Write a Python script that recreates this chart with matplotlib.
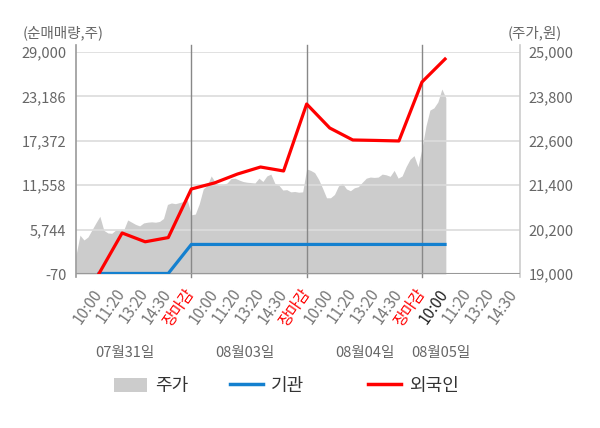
import matplotlib
matplotlib.use("Agg")
import matplotlib.pyplot as plt
import matplotlib.transforms as mtransforms
from matplotlib.patches import Patch
from matplotlib.lines import Line2D
import numpy as np

plt.rcParams['font.family'] = ['Noto Sans CJK KR', 'DejaVu Sans']

dates = ["07월31일", "08월03일", "08월04일", "08월05일"]
slot_labels = ["10:00", "11:20", "13:20", "14:30", "장마감"]

# 주가(원) - 하루를 고르게 나눈 값
price_d1 = [19510, 20050, 19920, 20000, 20190, 20380, 20560, 20180, 20110, 20100,
            20190, 20190, 20190, 20460, 20400, 20340, 20300, 20380, 20400, 20410,
            20400, 20420, 20500, 20880, 20920, 20900, 20930, 20960, 21000]
price_d2 = [20600, 20620, 20900, 21300, 21400, 21650, 21480, 21400, 21420, 21460,
            21580, 21590, 21540, 21500, 21480, 21470, 21460, 21590, 21500, 21650,
            21700, 21450, 21400, 21270, 21280, 21220, 21230, 21210, 21220]
price_d3 = [21840, 21800, 21740, 21560, 21320, 21060, 21060, 21150, 21380, 21450,
            21300, 21250, 21330, 21360, 21480, 21590, 21620, 21610, 21620, 21700,
            21680, 21640, 21800, 21590, 21650, 21900, 22100, 22200, 21900]
price_d4 = [22400, 23000, 23430, 23490, 23650, 24000, 23760]

# 순매매량(주) - 07/31 10:00 부터 08/05 10:00 까지
inst = [0, 0, 0, 0, 3800, 3800, 3800, 3800, 3800, 3800, 3800, 3800, 3800, 3800, 3800, 3800]
foreign = [0, 5300, 4150, 4700, 11060, 11850, 13020, 13940, 13420, 22190,
           19050, 17480, 17420, 17350, 25070, 28080]

vol_ticks = [-70, 5744, 11558, 17372, 23186, 29000]
price_ticks = [19000, 20200, 21400, 22600, 23800, 25000]

SLOTS = 5
n_pts = len(price_d1)
px, py = [], []
for d, p in enumerate([price_d1, price_d2, price_d3, price_d4]):
    px.extend(d * SLOTS + np.arange(len(p)) * SLOTS / n_pts)
    py.extend(p)

fig = plt.figure(figsize=(6, 4.28), dpi=100)
ax = fig.add_axes([76 / 600, 1 - 274 / 428, 444 / 600, 222 / 428])
axp = ax.twinx()
ax.set_zorder(2)
axp.set_zorder(1)
ax.patch.set_visible(False)
axp.set_facecolor('#f5f5f5')

xmax = 19.25
axp.fill_between(px, py, price_ticks[0], color='#cccccc', lw=0)
axp.set_ylim(price_ticks[0], price_ticks[-1])
axp.set_yticks(price_ticks, labels=[f"{v:,}" for v in price_ticks])
axp.tick_params(axis='y', length=0, pad=6, labelsize=10.5, labelcolor='#666666')

slot_x = np.arange(1, len(foreign) + 1)
ax.plot(slot_x, inst, color='#1480cf', lw=2.3, zorder=4)
ax.plot(slot_x, foreign, color='#ff0000', lw=2.3, zorder=5)

ax.set_xlim(0, xmax)
ax.set_ylim(vol_ticks[0], vol_ticks[-1])
ax.set_yticks(vol_ticks, labels=[f"{v:,}" for v in vol_ticks])
ax.tick_params(axis='y', length=0, pad=7, labelsize=10.5, labelcolor='#666666')
ax.grid(axis='y', color='#dcdcdc', lw=1.2)
ax.set_axisbelow(False)

for a in (ax, axp):
    for s in a.spines.values():
        s.set_visible(False)

# day dividers and frame
for d in range(1, len(dates)):
    ax.axvline(d * SLOTS, ymin=-0.015, ymax=1.03, color='#888888', lw=1, clip_on=False, zorder=3)
ax.axvline(0, ymin=-0.015, ymax=1.03, color='#999999', lw=1.2, clip_on=False, zorder=3)
ax.axvline(xmax, ymin=-0.015, ymax=1.03, color='#cccccc', lw=1.2, clip_on=False, zorder=3)
ax.axhline(vol_ticks[0], color='#999999', lw=1.5, zorder=3)

tick_pos, tick_lab = [], []
for d in range(len(dates)):
    for k, lab in enumerate(slot_labels):
        pos = d * SLOTS + k + 1
        if pos < xmax:
            tick_pos.append(pos)
            tick_lab.append(lab)
ax.set_xticks(tick_pos, labels=tick_lab)
ax.tick_params(axis='x', length=0, pad=12, labelsize=11)
plt.setp(ax.get_xticklabels(), rotation=55, ha='right', va='center', rotation_mode='anchor')
for i, t in enumerate(ax.get_xticklabels()):
    if t.get_text() == "장마감":
        t.set_color('#ff0000')
    elif i == 3 * SLOTS:
        t.set_color('#222222')
    else:
        t.set_color('#777777')

# date labels under the time axis
trans = mtransforms.blended_transform_factory(ax.transData, fig.transFigure)
for xd, lab in zip([2.12, 7.33, 12.53, 15.82], dates):
    ax.text(xd, 0.175, lab, transform=trans, ha='center', va='center',
            fontsize=10.5, color='#666666')

fig.text(23 / 600, 0.923, "(순매매량,주)", ha='left', va='center', fontsize=10.5, color='#666666')
fig.text(562 / 600, 0.923, "(주가,원)", ha='right', va='center', fontsize=10.5, color='#666666')

# legend
items = [
    (Patch(facecolor='#cccccc', edgecolor='none'), "주가", 114),
    (Line2D([], [], color='#1480cf', lw=2.5), "기관", 230),
    (Line2D([], [], color='#ff0000', lw=2.5), "외국인", 368),
]
for h, lab, x0 in items:
    fig.legend([h], [lab], loc='center left', bbox_to_anchor=(x0 / 600, 0.098),
               frameon=False, borderpad=0, borderaxespad=0, fontsize=13,
               handlelength=1.8, handleheight=0.85, handletextpad=0.45,
               labelcolor='#333333')

fig.savefig("out.png", dpi=100)
